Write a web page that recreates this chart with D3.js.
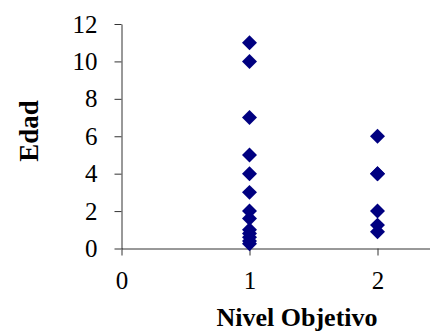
<!DOCTYPE html>
<html>
<head>
<meta charset="utf-8">
<script src="https://cdn.jsdelivr.net/npm/d3@7"></script>
<style>
  body { margin: 0; background: #fff; }
</style>
</head>
<body>
<div id="chart"></div>
<script>
// nivel objetivo (x) and edad (y) of each point
const nivel = [1, 1, 1, 1, 1, 1, 1, 1, 1, 1, 1, 1, 1, 2, 2, 2, 2, 2, 2];
const edad = [11, 10, 7, 5, 4, 3, 2, 1.6, 1, 0.8, 0.6, 0.4, 0.25, 6, 4, 4, 2, 1.25, 0.9];
const xTicks = [0, 1, 2];
const yTicks = [0, 2, 4, 6, 8, 10, 12];
const xTitle = "Nivel Objetivo";
const yTitle = "Edad";

const serif = "'Liberation Serif', 'Times New Roman', serif";
const width = 430, height = 335;
const svg = d3.select("#chart").append("svg")
  .attr("width", width)
  .attr("height", height);

const x = d3.scaleLinear().domain([0, 2.5]).range([121.5, 441.5]);
const y = d3.scaleLinear().domain([0, 12]).range([248.5, 24]);

const yAxis = svg.append("g")
  .attr("transform", `translate(${x(0)},0)`)
  .call(d3.axisLeft(y).tickValues(yTicks).tickFormat(d3.format("d"))
    .tickSize(7).tickSizeOuter(0).tickPadding(17));
const xAxis = svg.append("g")
  .attr("transform", `translate(0,${y(0)})`)
  .call(d3.axisBottom(x).tickValues(xTicks).tickFormat(d3.format("d"))
    .tickSize(7).tickSizeOuter(0).tickPadding(16));

[xAxis, yAxis].forEach(g => {
  g.selectAll("path, line").attr("stroke", "#333");
  g.selectAll("text")
    .style("font-family", serif)
    .style("font-size", "25px")
    .attr("fill", "#000");
});

const diamond = d3.symbol().type(d3.symbolSquare).size(112);
svg.append("g")
  .selectAll("path")
  .data(nivel.map((n, i) => [n, edad[i]]))
  .join("path")
  .attr("d", diamond)
  .attr("transform", d => `translate(${x(d[0])},${y(d[1])}) rotate(45)`)
  .attr("fill", "#000080");

svg.append("text")
  .attr("x", 297)
  .attr("y", 326)
  .attr("text-anchor", "middle")
  .style("font-family", serif)
  .style("font-size", "26px")
  .style("font-weight", "bold")
  .text(xTitle);

svg.append("text")
  .attr("transform", "translate(38,131) rotate(-90)")
  .attr("text-anchor", "middle")
  .style("font-family", serif)
  .style("font-size", "27px")
  .style("font-weight", "bold")
  .text(yTitle);
</script>
</body>
</html>
